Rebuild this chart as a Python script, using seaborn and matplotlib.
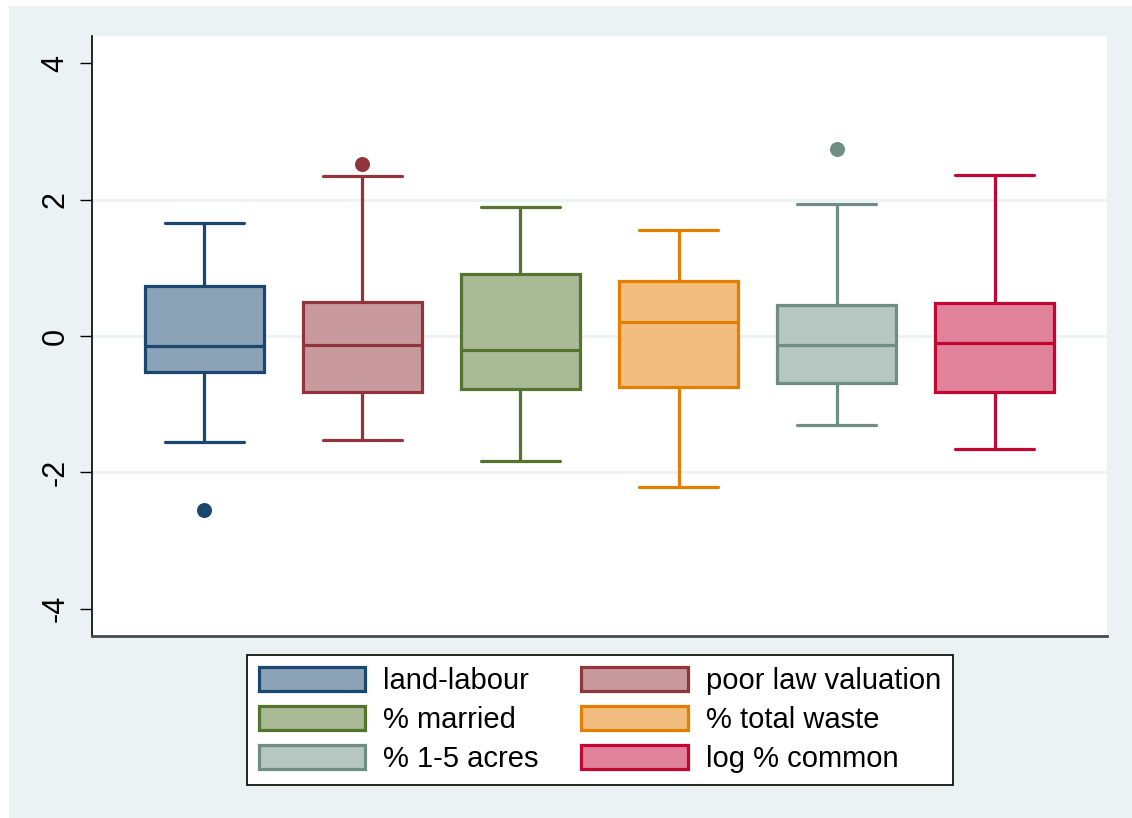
import pandas as pd
import numpy as np
import seaborn as sns
import matplotlib.pyplot as plt
from matplotlib.patches import Patch, Rectangle

# five-number summaries (lower whisker, Q1, median, Q3, upper whisker)
variables = ["land-labour", "poor law valuation", "% married",
             "% total waste", "% 1-5 acres", "log % common"]
lower_whisker = [-1.56, -1.53, -1.84, -2.21, -1.30, -1.66]
q1 = [-0.53, -0.82, -0.77, -0.75, -0.69, -0.82]
median = [-0.15, -0.13, -0.21, 0.21, -0.13, -0.10]
q3 = [0.74, 0.50, 0.91, 0.81, 0.46, 0.49]
upper_whisker = [1.66, 2.34, 1.89, 1.55, 1.94, 2.36]

outlier_vars = ["land-labour", "poor law valuation", "% 1-5 acres"]
outlier_vals = [-2.55, 2.53, 2.75]

line_colors = ["#1a476f", "#90353b", "#55752f", "#e37e00", "#6e8e84", "#c10534"]
fill_colors = ["#8ca3b7", "#c89a9d", "#aaba97", "#f1be7f", "#b6c6c1", "#e08299"]

rows = []
for i, v in enumerate(variables):
    for val in [lower_whisker[i], q1[i], median[i], q3[i], upper_whisker[i]]:
        rows.append({"variable": v, "value": val})
df = pd.DataFrame(rows)
out_df = pd.DataFrame({"variable": outlier_vars, "value": outlier_vals})

sns.set_style("white")
plt.rcParams["font.family"] = ["Liberation Sans", "DejaVu Sans"]
plt.rcParams["text.color"] = "black"
plt.rcParams["ytick.color"] = "black"

bg = "#eaf2f3"
fig = plt.figure(figsize=(11.32, 8.18), dpi=100, facecolor="white")
fig.patches.append(Rectangle((9 / 1132, 0), 1, 1 - 6 / 818, transform=fig.transFigure,
                             facecolor=bg, edgecolor="none", zorder=-10))
ax = fig.add_axes([92 / 1132, 1 - 636 / 818, (1107 - 92) / 1132, (636 - 36) / 818])
ax.set_facecolor("white")

for i, v in enumerate(variables):
    sns.boxplot(data=df[df["variable"] == v], x="variable", y="value", order=variables,
                whis=(0, 100), width=0.753, color=fill_colors[i], linecolor=line_colors[i],
                linewidth=2.3, saturation=1, capwidths=0.5, ax=ax)

sns.stripplot(data=out_df, x="variable", y="value", order=variables, hue="variable",
              hue_order=variables, palette=dict(zip(variables, line_colors)),
              jitter=False, size=10.8, linewidth=0, legend=False, ax=ax)

for y in [-2, 0, 2]:
    ax.axhline(y, color=bg, lw=2, zorder=0)

ax.set_xlim(-0.71, 5.71)
ax.set_ylim(-4.4, 4.4)
ax.set_yticks([-4, -2, 0, 2, 4])
ax.set_yticklabels(["-4", "-2", "0", "2", "4"], rotation=90, va="center")
ax.tick_params(axis="y", length=8.5, width=1, pad=7, labelsize=22, left=True,
               color="black", labelcolor="black")
ax.set_xticks([])
ax.set_xlabel("")
ax.set_ylabel("")
for s in ["top", "right"]:
    ax.spines[s].set_visible(False)
ax.spines["left"].set_color("black")
ax.spines["left"].set_linewidth(1.2)
ax.spines["bottom"].set_color("#4a4a4a")
ax.spines["bottom"].set_linewidth(2)

order = [0, 2, 4, 1, 3, 5]
handles = [Patch(facecolor=fill_colors[i], edgecolor=line_colors[i], linewidth=2.3,
                 label=variables[i]) for i in order]
leg = fig.legend(handles=handles, ncol=2, loc="center", bbox_to_anchor=(600 / 1132, 1 - 720 / 818),
                 fontsize=21, frameon=True, fancybox=False, edgecolor="black", framealpha=1,
                 facecolor="white", handlelength=3.65, handleheight=0.9, handletextpad=0.62,
                 columnspacing=1.45, labelspacing=0.38, borderpad=0.4)
leg.get_frame().set_linewidth(1.2)
for t in leg.get_texts():
    t.set_color("black")

fig.savefig("out.png", dpi=100, facecolor=fig.get_facecolor())
